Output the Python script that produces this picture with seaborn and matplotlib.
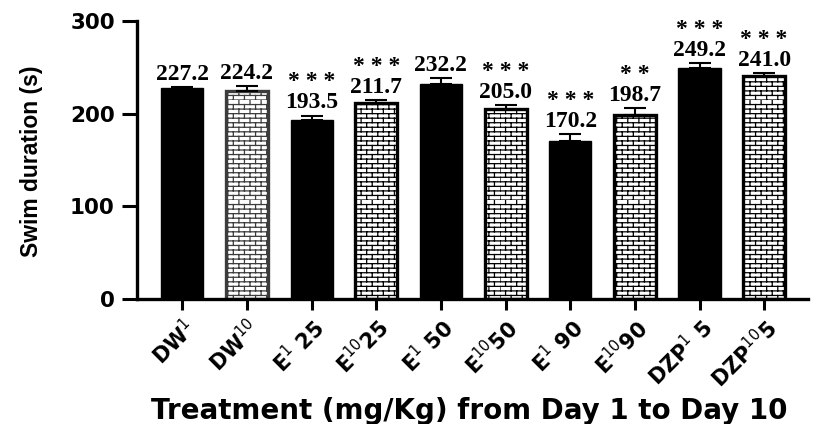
import warnings
warnings.filterwarnings("ignore")
import numpy as np
import matplotlib
matplotlib.use("Agg")
import matplotlib.pyplot as plt
import matplotlib.hatch as mhatch
import matplotlib.transforms as mtransforms
from matplotlib.path import Path
import seaborn as sns

# ---------------- data ----------------
groups = ["DW1", "DW10", "E1 25", "E10 25", "E1 50", "E10 50", "E1 90", "E10 90", "DZP1 5", "DZP10 5"]
tick_labels = [r"DW$^{1}$", r"DW$^{10}$", r"E$^{1}$ 25", r"E$^{10}$25", r"E$^{1}$ 50",
               r"E$^{10}$50", r"E$^{1}$ 90", r"E$^{10}$90", r"DZP$^{1}$ 5", r"DZP$^{10}$5"]
means = [227.2, 224.2, 193.5, 211.7, 232.2, 205.0, 170.2, 198.7, 249.2, 241.0]
sems = [1.5, 6.0, 4.5, 3.0, 6.0, 4.5, 8.0, 7.0, 5.0, 2.5]
stars = ["", "", "***", "***", "", "***", "***", "**", "***", "***"]
day = [1, 10, 1, 10, 1, 10, 1, 10, 1, 10]


# ---------------- brick hatch ----------------
class BrickHatch(mhatch.HatchPatternBase):
    def __init__(self, hatch, density):
        n = hatch.count("b")
        self.rows = 22 if n else 0
        self.cols = 9
        self.num_vertices = self.rows * 2 + self.rows * self.cols * 2

    def set_vertices_and_codes(self, vertices, codes):
        k = 0
        for i in range(self.rows):
            y0 = i / self.rows
            y1 = (i + 1) / self.rows
            vertices[k] = (0.0, y0); codes[k] = Path.MOVETO; k += 1
            vertices[k] = (1.0, y0); codes[k] = Path.LINETO; k += 1
            off = 0.5 / self.cols if i % 2 else 0.0
            for j in range(self.cols):
                x = j / self.cols + off
                vertices[k] = (x, y0); codes[k] = Path.MOVETO; k += 1
                vertices[k] = (x, y1); codes[k] = Path.LINETO; k += 1


mhatch._hatch_types.append(BrickHatch)

sns.set_theme(style="ticks")
plt.rcParams["font.family"] = ["DejaVu Sans"]
plt.rcParams["mathtext.fontset"] = "custom"
plt.rcParams["mathtext.rm"] = "DejaVu Sans"
plt.rcParams["mathtext.default"] = "rm"
plt.rcParams["hatch.linewidth"] = 0.9
plt.rcParams["text.color"] = "black"
plt.rcParams["axes.labelcolor"] = "black"
plt.rcParams["xtick.color"] = "black"
plt.rcParams["ytick.color"] = "black"

fig = plt.figure(figsize=(8.28, 4.24), dpi=100)
ax = fig.add_axes([0.1655, 0.2948, 0.976 - 0.1655, 0.9505 - 0.2948])

sns.barplot(x=groups, y=means, color="black", width=0.65, errorbar=None,
            saturation=1, ax=ax, zorder=2)

patches = ax.patches
for i, p in enumerate(patches):
    if day[i] == 10:
        p.set_facecolor("white")
        p.set_hatch("b")
        p.set_edgecolor("#3c3c3c" if i == 1 else "black")
        p.set_linewidth(2.4)
    else:
        p.set_facecolor("black")
        p.set_edgecolor("black")
        p.set_linewidth(1.0)

xs = [p.get_x() + p.get_width() / 2 for p in patches]
ax.errorbar(xs, means, yerr=[np.zeros(len(sems)), sems], fmt="none",
            ecolor="black", elinewidth=1.5, capsize=8, capthick=1.5, zorder=3)

for x, m, s, st in zip(xs, means, sems, stars):
    label = f"{m:.1f}"
    if st:
        label = " ".join(st) + "\n" + label
    ax.annotate(label, (x, m + s), xytext=(0, 1.5), textcoords="offset points",
                ha="center", va="bottom", multialignment="center", linespacing=1.0,
                family="Liberation Serif", fontweight="bold", fontsize=17,
                color="black")

ax.set_xlim(-0.7, 9.68)
ax.set_ylim(0, 300)
ax.set_yticks([0, 100, 200, 300])
ax.set_yticklabels(["0", "100", "200", "300"], fontweight="bold", fontsize=15.5)
ax.set_xticks(range(len(groups)))
ax.set_xticklabels(tick_labels, rotation=45, ha="right", rotation_mode="anchor",
                   fontweight="bold", fontsize=15)
ax.tick_params(axis="x", length=8, width=2.2, color="black", labelcolor="black", pad=4)
ax.tick_params(axis="y", length=11, width=2.2, color="black", labelcolor="black", pad=5)

for side in ["left", "bottom"]:
    ax.spines[side].set_linewidth(2.4)
    ax.spines[side].set_color("black")
for side in ["top", "right"]:
    ax.spines[side].set_visible(False)

ax.set_ylabel("Swim duration (s)", family="Liberation Sans", fontweight="bold",
              fontsize=16.5, color="black")
ax.yaxis.set_label_coords(-0.140, 0.495)
ax.set_xlabel("Treatment (mg/Kg) from Day 1 to Day 10", fontweight="bold",
              fontsize=20, color="black")
blend = mtransforms.blended_transform_factory(ax.transAxes, fig.transFigure)
ax.xaxis.set_label_coords(0.495, 0.064, transform=blend)

fig.savefig("out.png", dpi=100)
